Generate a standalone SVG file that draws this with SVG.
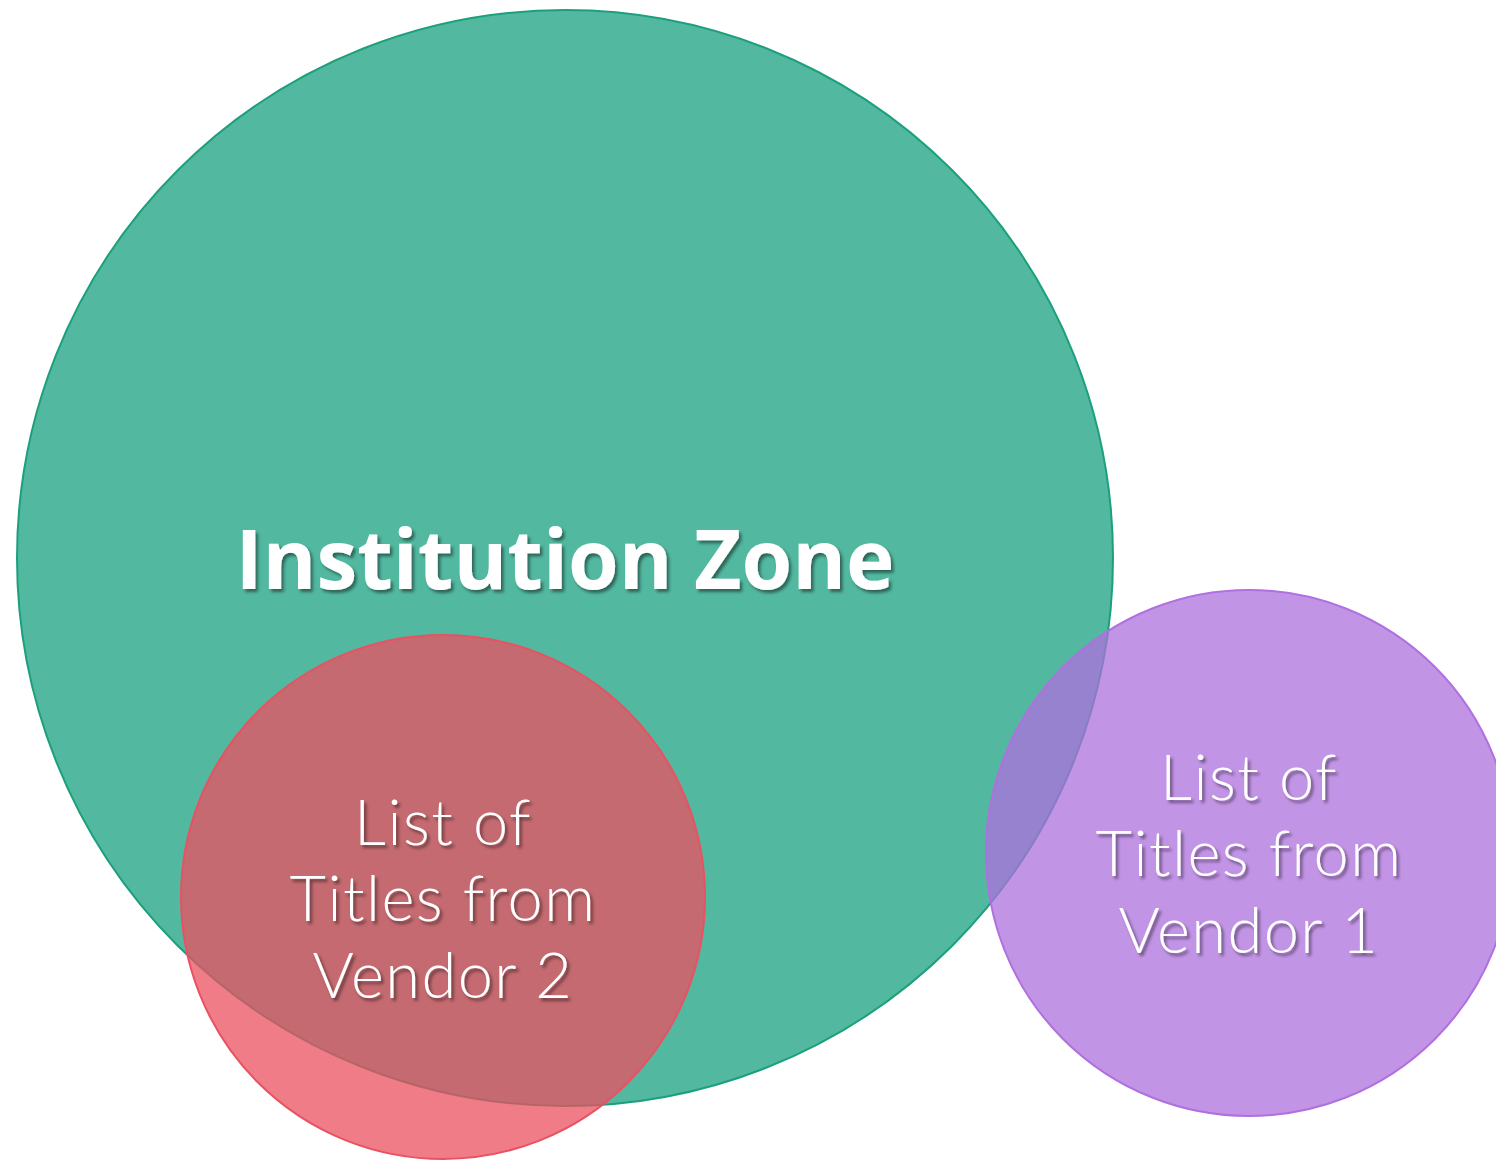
<svg xmlns="http://www.w3.org/2000/svg" width="1496" height="1160" viewBox="0 0 1496 1160">
<defs>
<style>
.title{font-family:"Open Sans","Liberation Sans",sans-serif;font-weight:700;font-size:82px;fill:#fff;text-anchor:middle}
.lbl{font-family:"Lato","Open Sans","Liberation Sans",sans-serif;font-weight:300;font-size:63px;letter-spacing:1.5px;fill:#fff;text-anchor:middle}
</style>
<filter id="sh" x="-10%" y="-20%" width="120%" height="150%">
<feDropShadow dx="2.5" dy="3" stdDeviation="1.8" flood-color="#000" flood-opacity="0.45"/>
</filter>
</defs>
<rect width="1496" height="1160" fill="#fff"/>
<g id="institution">
<circle cx="565" cy="558" r="548" fill="#52B8A0" stroke="#1CA07C" stroke-width="2"/>
<text class="title" x="565" y="589" filter="url(#sh)">Institution Zone</text>
</g>
<g id="vendor2">
<circle cx="443" cy="897" r="262" fill="#EB5060" fill-opacity="0.75" stroke="#E85262" stroke-width="2"/>
<text class="lbl" x="443" y="845" filter="url(#sh)">List of</text>
<text class="lbl" x="443" y="921" filter="url(#sh)">Titles from</text>
<text class="lbl" x="443" y="998" filter="url(#sh)">Vendor 2</text>
</g>
<g id="vendor1">
<circle cx="1249" cy="853" r="263" fill="#AE70DE" fill-opacity="0.75" stroke="#B070E0" stroke-width="2"/>
<text class="lbl" x="1249" y="800" filter="url(#sh)">List of</text>
<text class="lbl" x="1249" y="876" filter="url(#sh)">Titles from</text>
<text class="lbl" x="1249" y="953" filter="url(#sh)">Vendor 1</text>
</g>
<g id="connectors"></g>
</svg>
